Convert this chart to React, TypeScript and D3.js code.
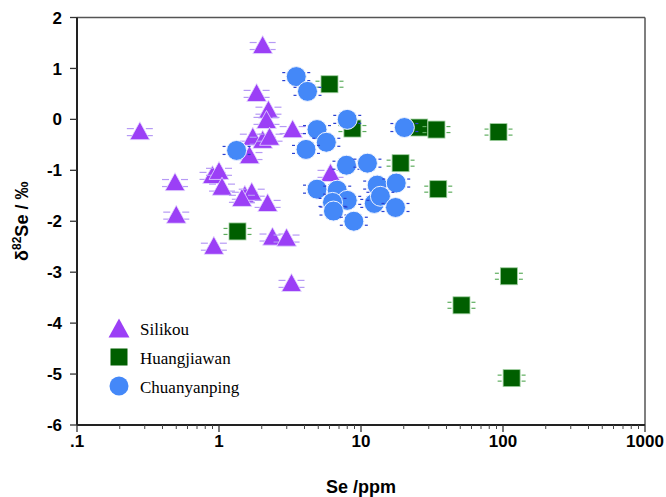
import React from 'react';
import * as d3 from 'd3';

// Se (ppm) and δ82Se (‰)
const silikouSe = [0.277, 2.03, 1.84, 2.23, 2.16, 3.3, 1.73, 2.03, 2.27, 1.64, 0.49, 0.9, 1.0, 1.05, 1.52, 1.7, 1.45, 2.2, 0.5, 0.92, 2.38, 2.99, 3.24, 6.1];
const silikouD = [-0.24, 1.45, 0.51, 0.18, -0.02, -0.2, -0.35, -0.41, -0.35, -0.71, -1.24, -1.1, -1.02, -1.33, -1.49, -1.43, -1.55, -1.65, -1.88, -2.49, -2.31, -2.33, -3.22, -1.06];

const huangSe = [6.0, 8.7, 25.7, 34, 93, 19, 35, 1.35, 110, 51, 115];
const huangD = [0.69, -0.18, -0.16, -0.2, -0.25, -0.86, -1.37, -2.2, -3.08, -3.65, -5.08];

const chuanSe = [3.5, 4.2, 8.0, 20.2, 4.9, 5.7, 4.1, 1.33, 7.9, 11.1, 4.9, 6.8, 8.0, 6.3, 6.4, 8.9, 13.0, 17.7, 12.4, 13.7, 17.5];
const chuanD = [0.84, 0.55, 0.0, -0.16, -0.2, -0.45, -0.59, -0.61, -0.9, -0.86, -1.37, -1.39, -1.59, -1.63, -1.8, -2.0, -1.29, -1.25, -1.65, -1.51, -1.73];

const xTicks = [0.1, 1, 10, 100, 1000];
const xTickLabels = ['.1', '1', '10', '100', '1000'];
const yTicks = [2, 1, 0, -1, -2, -3, -4, -5, -6];

const W = 666;
const H = 497;
const left = 77, right = 645, top = 17.5, bottom = 425;

const PURPLE = '#9b3ff6';
const GREEN = '#005f00';
const BLUE = '#4488f8';

const x = d3.scaleLog().domain([0.1, 1000]).range([left, right]);
const y = d3.scaleLinear().domain([-6, 2]).range([bottom, top]);

const minorTicks: number[] = [];
for (let d = 0.1; d < 1000; d *= 10) {
  for (let k = 2; k <= 9; k++) minorTicks.push(d * k);
}

const triPath = (cx: number, cy: number, s: number) =>
  `M${cx},${cy - s * 0.55}L${cx + s * 0.55},${cy + s * 0.45}L${cx - s * 0.55},${cy + s * 0.45}Z`;

function Caps({ cx, cy, color, inner, outer, dy1, dy2, w }: any) {
  return (
    <g stroke={color} strokeWidth={w}>
      <line x1={cx - outer} x2={cx - inner} y1={cy + dy1} y2={cy + dy1} />
      <line x1={cx - outer} x2={cx - inner} y1={cy + dy2} y2={cy + dy2} />
      <line x1={cx + inner} x2={cx + outer} y1={cy + dy1} y2={cy + dy1} />
      <line x1={cx + inner} x2={cx + outer} y1={cy + dy2} y2={cy + dy2} />
    </g>
  );
}

export default function App() {
  const font = 'Arial, "Liberation Sans", sans-serif';
  const serif = '"Liberation Serif", "Times New Roman", serif';
  return (
    <div style={{ position: 'absolute', left: 0, top: 0 }}>
      <svg width={W} height={H} style={{ display: 'block', background: '#fff' }}>
        {/* frame */}
        <line x1={left} x2={right} y1={top} y2={top} stroke="#555" strokeWidth={1.5} />
        <line x1={right} x2={right} y1={top} y2={bottom} stroke="#555" strokeWidth={1.5} />
        <line x1={left} x2={left} y1={top} y2={bottom} stroke="#222" strokeWidth={2} />
        <line x1={left} x2={right} y1={bottom} y2={bottom} stroke="#222" strokeWidth={2} />

        {/* y ticks */}
        {yTicks.map((t) => (
          <g key={'y' + t}>
            <line x1={left - 7} x2={left} y1={y(t)} y2={y(t)} stroke="#333" strokeWidth={1.3} />
            <text x={62} y={y(t)} dy="0.36em" textAnchor="end" fontFamily={font} fontWeight="bold" fontSize={17}>
              {t}
            </text>
          </g>
        ))}

        {/* x ticks */}
        {minorTicks.map((t) => (
          <line key={'m' + t} x1={x(t)} x2={x(t)} y1={bottom} y2={bottom + 4} stroke="#444" strokeWidth={1} />
        ))}
        {xTicks.map((t, i) => (
          <g key={'x' + t}>
            <line x1={x(t)} x2={x(t)} y1={bottom} y2={bottom + 7} stroke="#333" strokeWidth={1.3} />
            <text x={x(t)} y={447} textAnchor="middle" fontFamily={font} fontWeight="bold" fontSize={17}>
              {xTickLabels[i]}
            </text>
          </g>
        ))}

        {/* axis titles */}
        <text x={(left + right) / 2} y={493} textAnchor="middle" fontFamily={font} fontWeight="bold" fontSize={18}>
          Se /ppm
        </text>
        <text
          transform={`translate(28,${(top + bottom) / 2}) rotate(-90)`}
          textAnchor="middle"
          fontFamily={font}
          fontWeight="bold"
          fontSize={18}
        >
          δ<tspan fontSize={12} dy={-7}>82</tspan>
          <tspan dy={7}>Se / ‰</tspan>
        </text>

        {/* Silikou */}
        {silikouSe.map((v, i) => {
          const cx = x(v), cy = y(silikouD[i]);
          return (
            <g key={'s' + i}>
              <Caps cx={cx} cy={cy} color="#b69af5" inner={6} outer={13} dy1={-3} dy2={4} w={1.2} />
              <path d={triPath(cx, cy, 18)} fill={PURPLE} stroke="#e6dcff" strokeWidth={0.8} />
            </g>
          );
        })}

        {/* Huangjiawan */}
        {huangSe.map((v, i) => {
          const cx = x(v), cy = y(huangD[i]);
          return (
            <g key={'h' + i}>
              <Caps cx={cx} cy={cy} color="#5fae5f" inner={10} outer={14} dy1={-3} dy2={3} w={1.2} />
              <rect x={cx - 8.5} y={cy - 8.5} width={17} height={17} fill={GREEN} stroke="#9fcf9f" strokeWidth={0.8} />
            </g>
          );
        })}

        {/* Chuanyanping */}
        {chuanSe.map((v, i) => {
          const cx = x(v), cy = y(chuanD[i]);
          return (
            <g key={'c' + i}>
              <Caps cx={cx} cy={cy} color="#2a3fd0" inner={11} outer={14} dy1={-4} dy2={4} w={1.2} />
              <circle cx={cx} cy={cy} r={10} fill={BLUE} stroke="#eef3ff" strokeWidth={1} />
            </g>
          );
        })}

        {/* legend */}
        <path d={triPath(119, 329, 19)} fill={PURPLE} />
        <text x={140} y={335} fontFamily={serif} fontSize={17}>Silikou</text>
        <rect x={110.5} y={348.5} width={17} height={17} fill={GREEN} />
        <text x={140} y={364} fontFamily={serif} fontSize={17}>Huangjiawan</text>
        <circle cx={119} cy={386} r={9.5} fill={BLUE} />
        <text x={140} y={393} fontFamily={serif} fontSize={17}>Chuanyanping</text>
      </svg>
    </div>
  );
}
